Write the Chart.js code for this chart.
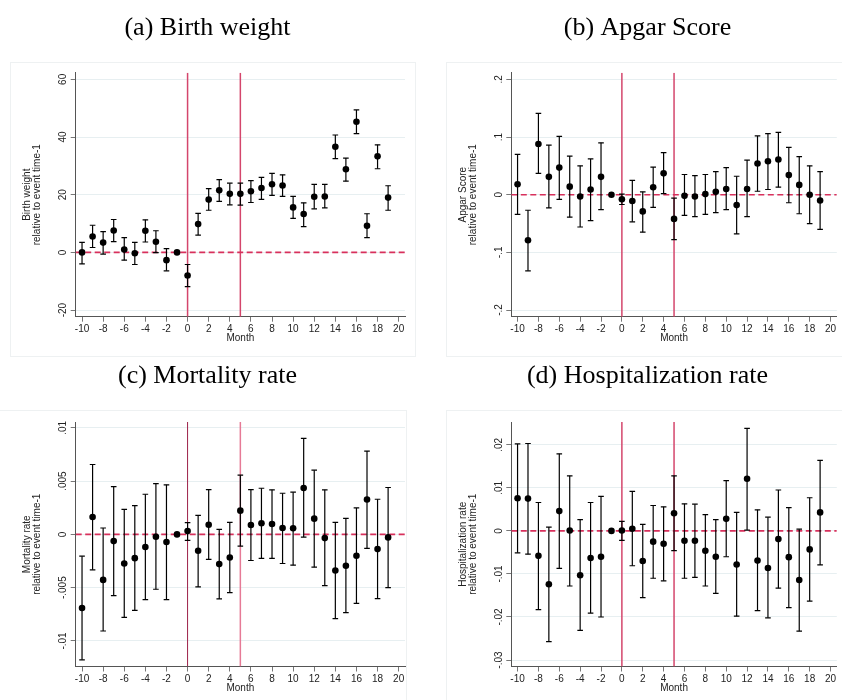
<!DOCTYPE html>
<html>
<head>
<meta charset="utf-8">
<script src="https://cdn.jsdelivr.net/npm/chart.js@4.4.1/dist/chart.umd.min.js"></script>
<style>
  body { margin: 0; background: #fff; }
  #page { position: relative; width: 842px; height: 700px; overflow: hidden; }
  .frame { position: absolute; border: 1px solid #eef1f2; }
  canvas { position: absolute; }
</style>
</head>
<body>
<div id="page">
  <div class="frame" style="left:10px;top:62px;width:404px;height:293px"></div>
  <div class="frame" style="left:446px;top:62px;width:400px;height:293px"></div>
  <div class="frame" style="left:-2px;top:410px;width:407px;height:295px"></div>
  <div class="frame" style="left:446px;top:410px;width:400px;height:295px"></div>
  <canvas id="bw" width="421" height="352" style="left:0;top:0"></canvas>
  <canvas id="apgar" width="387" height="352" style="left:455px;top:0"></canvas>
  <canvas id="mort" width="421" height="348" style="left:0;top:352px"></canvas>
  <canvas id="hosp" width="387" height="348" style="left:455px;top:352px"></canvas>
</div>
<script>
// event time, months relative to the event (-1 is the omitted base month)
const MONTHS = [-10, -9, -8, -7, -6, -5, -4, -3, -2, -1, 0, 1, 2, 3, 4, 5, 6, 7, 8, 9, 10, 11, 12, 13, 14, 15, 16, 17, 18, 19];
const MONTH_TICKS = [-10, -8, -6, -4, -2, 0, 2, 4, 6, 8, 10, 12, 14, 16, 18, 20];
const X_RANGE = [-10.6, 20.6];
const EVENT_MONTHS = [0, 5];

// (a) birth weight
const bwCoef = [0, 5.5, 3.4, 7.6, 1.0, -0.3, 7.5, 3.7, -2.7, 0, -8.0, 9.8, 18.3, 21.5, 20.3, 20.3, 21.2, 22.3, 23.6, 23.2, 15.6, 13.3, 19.3, 19.4, 36.6, 28.8, 45.3, 9.2, 33.3, 19.0];
const bwLo = [-4.0, 1.7, -0.6, 3.7, -2.7, -4.2, 3.6, -0.1, -6.4, null, -11.9, 6.0, 14.6, 17.7, 16.5, 16.4, 17.3, 18.4, 19.8, 19.4, 11.8, 8.9, 15.1, 15.4, 32.5, 24.7, 41.2, 5.1, 29.0, 14.6];
const bwHi = [3.5, 9.4, 7.2, 11.4, 5.1, 3.5, 11.3, 7.5, 1.3, null, -4.2, 13.5, 22.1, 25.2, 24.0, 24.0, 24.9, 26.0, 27.4, 26.9, 19.4, 17.2, 23.6, 23.6, 40.7, 32.7, 49.4, 13.4, 37.3, 23.1];
const bwTicks = [-20, 0, 20, 40, 60];
const bwRange = [-22.3, 62.3];

// (b) apgar score
const apgarCoef = [0.018, -0.079, 0.088, 0.031, 0.047, 0.014, -0.003, 0.009, 0.031, 0, -0.008, -0.011, -0.029, 0.013, 0.037, -0.042, -0.002, -0.003, 0.001, 0.005, 0.010, -0.018, 0.010, 0.054, 0.058, 0.061, 0.034, 0.017, 0.000, -0.010];
const apgarLo = [-0.034, -0.132, 0.037, -0.023, -0.008, -0.039, -0.056, -0.045, -0.026, null, -0.017, -0.047, -0.065, -0.022, 0.002, -0.078, -0.036, -0.038, -0.034, -0.031, -0.026, -0.068, -0.038, 0.006, 0.009, 0.013, -0.014, -0.033, -0.050, -0.060];
const apgarHi = [0.070, -0.027, 0.141, 0.086, 0.101, 0.067, 0.050, 0.062, 0.090, null, 0.001, 0.025, 0.005, 0.048, 0.073, -0.006, 0.035, 0.033, 0.035, 0.040, 0.047, 0.032, 0.060, 0.102, 0.106, 0.108, 0.082, 0.066, 0.050, 0.040];
const apgarTicks = [-0.2, -0.1, 0, 0.1, 0.2];
const apgarRange = [-0.2116, 0.2116];

// (c) mortality rate
const mortCoef = [-0.00691, 0.00163, -0.00427, -0.00063, -0.00273, -0.00223, -0.00119, -0.00022, -0.00072, 0, 0.00031, -0.00154, 0.00091, -0.00279, -0.00217, 0.00223, 0.00088, 0.00104, 0.00097, 0.00060, 0.00057, 0.00436, 0.00148, -0.00035, -0.00339, -0.00295, -0.00201, 0.00327, -0.00138, -0.00028];
const mortLo = [-0.01177, -0.00333, -0.00907, -0.00575, -0.00779, -0.00713, -0.00612, -0.00515, -0.00612, null, -0.00057, -0.00493, -0.00235, -0.00606, -0.00546, -0.00110, -0.00245, -0.00226, -0.00226, -0.00273, -0.00289, -0.00025, -0.00308, -0.00480, -0.00791, -0.00735, -0.00647, -0.00132, -0.00603, -0.00499];
const mortHi = [-0.00204, 0.00656, 0.00060, 0.00449, 0.00235, 0.00270, 0.00377, 0.00477, 0.00465, null, 0.00110, 0.00179, 0.00421, 0.00047, 0.00113, 0.00556, 0.00421, 0.00433, 0.00418, 0.00386, 0.00396, 0.00901, 0.00603, 0.00418, 0.00113, 0.00151, 0.00248, 0.00782, 0.00330, 0.00440];
const mortTicks = [-0.01, -0.005, 0, 0.005, 0.01];
const mortRange = [-0.0124, 0.01055];

// (d) hospitalization rate
const hospCoef = [0.0076, 0.0075, -0.0058, -0.0124, 0.0046, 0.0001, -0.0103, -0.0063, -0.0060, 0, 0.0001, 0.0005, -0.0070, -0.0025, -0.0030, 0.0041, -0.0023, -0.0023, -0.0046, -0.0060, 0.0028, -0.0078, 0.0121, -0.0069, -0.0086, -0.0019, -0.0061, -0.0114, -0.0043, 0.0043];
const hospLo = [-0.0051, -0.0054, -0.0183, -0.0257, -0.0087, -0.0128, -0.0231, -0.0191, -0.0200, null, -0.0022, -0.0081, -0.0155, -0.0110, -0.0116, -0.0046, -0.0110, -0.0108, -0.0128, -0.0145, -0.0060, -0.0198, 0.0002, -0.0185, -0.0202, -0.0133, -0.0178, -0.0233, -0.0163, -0.0079];
const hospHi = [0.0202, 0.0203, 0.0066, 0.0009, 0.0179, 0.0128, 0.0026, 0.0066, 0.0080, null, 0.0022, 0.0092, 0.0015, 0.0059, 0.0056, 0.0128, 0.0063, 0.0062, 0.0038, 0.0026, 0.0117, 0.0043, 0.0238, 0.0049, 0.0032, 0.0095, 0.0054, 0.0004, 0.0077, 0.0164];
const hospTicks = [-0.03, -0.02, -0.01, 0, 0.01, 0.02];
const hospRange = [-0.0315, 0.0253];

const SANS = "'Liberation Sans', Arial, sans-serif";
const SERIF = "'Liberation Serif', 'Times New Roman', serif";
const TICK_FONT = { family: SANS, size: 10 };
const TEXT_COLOR = '#222';
const GRID_COLOR = '#e7eff1';
const TICK_COLOR = '#777';
const AXIS_COLOR = '#555';
const ZERO_COLOR = '#d8305c';
const EVENT_LINE = { color: '#d4466c', width: 1.5 };

// left/right column and top/bottom row spacing
const LEFT_COL = { padLeft: 10, padRight: 16, yWidth: 65.7, yTitlePad: 12.7 };
const RIGHT_COL = { padLeft: 0, padRight: 2, yWidth: 56.3, yTitlePad: 3.3 };
const TOP_ROW = { titleTop: 12.4, titleBottom: 29.1, padBottom: 5.3 };
const BOTTOM_ROW = { titleTop: 8.4, titleBottom: 30.4, padBottom: 3.5 };

// stata style numbers: .05 instead of 0.05
function stataLabel(v) {
    return String(v).replace(/^(-?)0\./, '$1.');
}

function widestLabel(values) {
    const ctx = document.createElement('canvas').getContext('2d');
    ctx.font = "10px " + SANS;
    return Math.max(...values.map(v => ctx.measureText(stataLabel(v)).width));
}

function buildPanel(id, title, yTitle, coef, lo, hi, yTicks, yRange, col, row, eventLines) {
    const pts = MONTHS.map((m, i) => ({ x: m, y: coef[i] }));
    const whiskers = [];
    const caps = [];
    MONTHS.forEach((m, i) => {
        if (lo[i] === null) return;
        whiskers.push({ x: m, y: lo[i] }, { x: m, y: hi[i] }, { x: m, y: null });
        caps.push({ x: m, y: lo[i] }, { x: m, y: hi[i] });
    });

    const datasets = [
        { data: pts, pointRadius: 3.3, pointBackgroundColor: '#000', pointBorderWidth: 0, borderColor: '#000' },
        { data: caps, pointStyle: 'line', pointRadius: 2.8, pointBorderColor: '#000', pointBorderWidth: 1.2, borderColor: '#000' },
        { data: whiskers, showLine: true, spanGaps: false, pointRadius: 0, borderColor: '#000', borderWidth: 1.2 },
        { data: [{ x: X_RANGE[0], y: 0 }, { x: X_RANGE[1], y: 0 }], showLine: true, pointRadius: 0,
          borderColor: ZERO_COLOR, borderWidth: 1.6, borderDash: [6, 3.5] }
    ];
    EVENT_MONTHS.forEach((m, k) => {
        datasets.push({ data: [{ x: m, y: yRange[0] }, { x: m, y: yRange[1] }], showLine: true, pointRadius: 0,
            borderColor: eventLines[k].color, borderWidth: eventLines[k].width });
    });

    const tickPad = 12.4 - 5 - widestLabel(yTicks) / 2;

    return new Chart(document.getElementById(id), {
        type: 'scatter',
        data: { datasets: datasets },
        options: {
            responsive: false,
            animation: false,
            events: [],
            layout: { padding: { left: col.padLeft, right: col.padRight, top: 0, bottom: row.padBottom } },
            plugins: {
                legend: { display: false },
                tooltip: { enabled: false },
                colors: { enabled: false },
                title: {
                    display: true,
                    text: title,
                    color: '#000',
                    font: { family: SERIF, size: 26, weight: 'normal' },
                    padding: { top: row.titleTop, bottom: row.titleBottom }
                }
            },
            scales: {
                x: {
                    type: 'linear',
                    min: X_RANGE[0],
                    max: X_RANGE[1],
                    afterBuildTicks: s => { s.ticks = MONTH_TICKS.map(v => ({ value: v })); },
                    afterFit: s => { s.height = 30; },
                    ticks: { font: TICK_FONT, color: TEXT_COLOR, padding: 2, maxRotation: 0, autoSkip: false,
                             callback: v => String(v) },
                    grid: { drawOnChartArea: false, tickLength: 5, tickColor: TICK_COLOR },
                    border: { color: AXIS_COLOR, width: 1 },
                    title: { display: true, text: 'Month', font: TICK_FONT, color: TEXT_COLOR,
                             padding: { top: 0, bottom: 2.7 } }
                },
                y: {
                    type: 'linear',
                    min: yRange[0],
                    max: yRange[1],
                    afterBuildTicks: s => { s.ticks = yTicks.map(v => ({ value: v })); },
                    afterFit: s => { s.width = col.yWidth; },
                    ticks: { font: TICK_FONT, color: TEXT_COLOR, minRotation: 90, maxRotation: 90,
                             crossAlign: 'center', padding: tickPad, autoSkip: false,
                             callback: v => stataLabel(v) },
                    grid: { color: GRID_COLOR, tickLength: 5, tickColor: TICK_COLOR },
                    border: { color: AXIS_COLOR, width: 1 },
                    title: { display: true, text: yTitle, color: TEXT_COLOR,
                             font: { family: SANS, size: 10, lineHeight: 1 },
                             padding: { top: col.yTitlePad, bottom: 0 } }
                }
            }
        }
    });
}

buildPanel('bw', '(a) Birth weight', ['Birth weight', 'relative to event time-1'],
    bwCoef, bwLo, bwHi, bwTicks, bwRange, LEFT_COL, TOP_ROW, [EVENT_LINE, EVENT_LINE]);
buildPanel('apgar', '(b) Apgar Score', ['Apgar Score', 'relative to event time-1'],
    apgarCoef, apgarLo, apgarHi, apgarTicks, apgarRange, RIGHT_COL, TOP_ROW, [EVENT_LINE, EVENT_LINE]);
buildPanel('mort', '(c) Mortality rate', ['Mortality rate', 'relative to event time-1'],
    mortCoef, mortLo, mortHi, mortTicks, mortRange, LEFT_COL, BOTTOM_ROW,
    [{ color: '#9c2148', width: 1 }, { color: '#e67a96', width: 1.5 }]);
buildPanel('hosp', '(d) Hospitalization rate', ['Hospitalization rate', 'relative to event time-1'],
    hospCoef, hospLo, hospHi, hospTicks, hospRange, RIGHT_COL, BOTTOM_ROW, [EVENT_LINE, EVENT_LINE]);
</script>
</body>
</html>
